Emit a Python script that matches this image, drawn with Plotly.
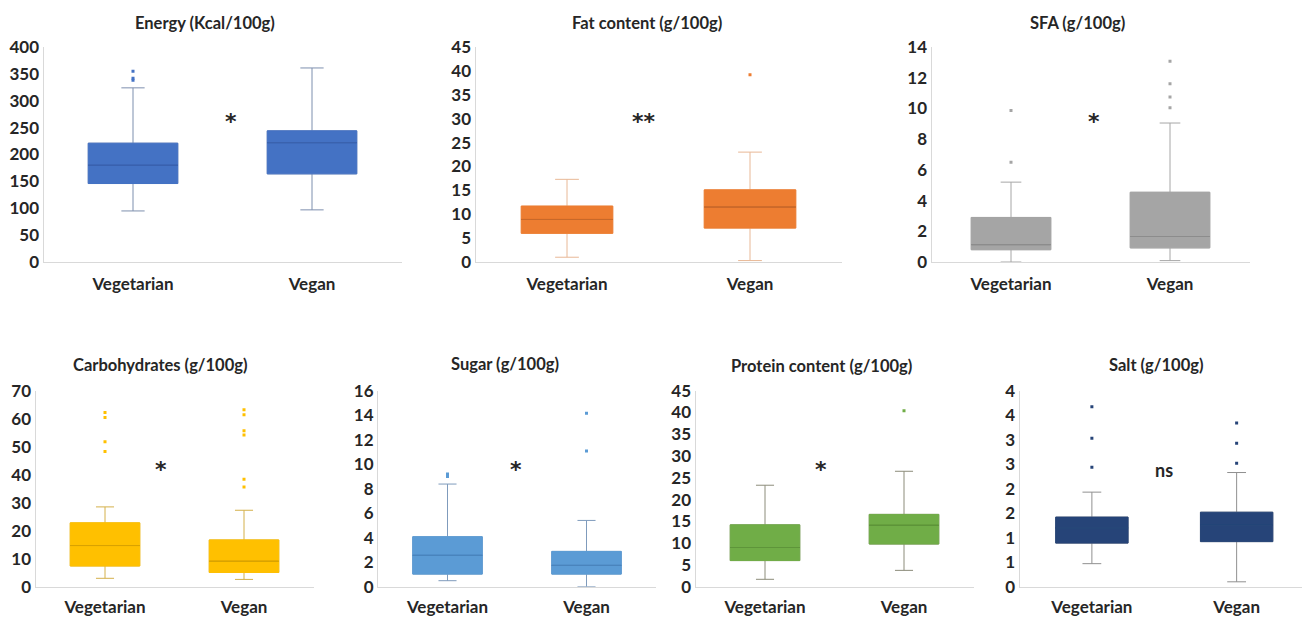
import plotly.graph_objects as go

# ---------------- data ----------------
CATEGORIES = ["Vegetarian", "Vegan"]

TITLES = ["Energy (Kcal/100g)", "Fat content (g/100g)", "SFA (g/100g)",
          "Carbohydrates (g/100g)", "Sugar (g/100g)", "Protein content (g/100g)", "Salt (g/100g)"]

# stats: [lower whisker, q1, median, q3, upper whisker]  for Vegetarian, Vegan
ENERGY_VEG = [95, 146, 180, 221, 324]
ENERGY_VEGAN = [97, 164, 222, 244, 361]
ENERGY_OUT_VEG = [338, 342, 355]
ENERGY_OUT_VEGAN = []

FAT_VEG = [1.0, 6.0, 8.9, 11.7, 17.3]
FAT_VEGAN = [0.3, 7.1, 11.5, 15.1, 23.0]
FAT_OUT_VEG = []
FAT_OUT_VEGAN = [39.2]

SFA_VEG = [0.0, 0.8, 1.13, 2.9, 5.2]
SFA_VEGAN = [0.09, 0.92, 1.66, 4.54, 9.05]
SFA_OUT_VEG = [6.5, 9.86]
SFA_OUT_VEGAN = [10.05, 10.75, 11.6, 13.08]

CARB_VEG = [3.0, 7.4, 14.7, 22.8, 28.5]
CARB_VEGAN = [2.6, 5.1, 9.1, 16.7, 27.3]
CARB_OUT_VEG = [48.3, 51.8, 60.4, 62.2]
CARB_OUT_VEGAN = [35.6, 38.4, 54.2, 55.7, 61.4, 63.2]

SUGAR_VEG = [0.49, 1.03, 2.56, 4.08, 8.38]
SUGAR_VEGAN = [0.0, 1.03, 1.74, 2.88, 5.41]
SUGAR_OUT_VEG = [9.0, 9.2]
SUGAR_OUT_VEGAN = [11.07, 14.15]

PROT_VEG = [1.7, 6.0, 9.0, 14.2, 23.3]
PROT_VEGAN = [3.75, 9.8, 14.1, 16.6, 26.5]
PROT_OUT_VEG = []
PROT_OUT_VEGAN = [40.4]

SALT_VEG = [0.47, 0.89, 1.2, 1.42, 1.93]
SALT_VEGAN = [0.10, 0.92, 1.25, 1.52, 2.33]
SALT_OUT_VEG = [2.44, 3.03, 3.67]
SALT_OUT_VEGAN = [2.52, 2.93, 3.34]

SIG_LABELS = ["*", "**", "*", "*", "*", "*", "ns"]
SIG_X = [0.55, 0.42, 0.52, 0.40, 0.49, 0.40, 0.50]
SIG_Y = [272, 30.6, 9.55, 43.9, 10.07, 28.3, 2.39]

Y_MAX = [400, 45, 14, 70, 16, 45, 4]
Y_STEP = [50, 5, 2, 10, 2, 5, 0.5]
SALT_TICKTEXT = ["0", "1", "1", "2", "2", "3", "3", "4", "4"]

# ---------------- styles ----------------
FILLS = ["#4472C4", "#ED7D31", "#A5A5A5", "#FFC000", "#5B9BD5", "#70AD47", "#264478"]
MEDIANS = ["#3A62AE", "#C8682A", "#8C8C8C", "#D9A300", "#4A85BD", "#5E953A", "#284779"]
WHISKERS = ["#7D8FAE", "#E8B896", "#A6A6A6", "#D4B04A", "#7F9BBC", "#8C8C7A", "#909090"]

# page body has an 8px margin; figure is shrunk and positions shifted accordingly
OFF = 8
W = 1310 - OFF
H = 618 - OFF
# pixel extents in the page (left, right, top, bottom)
PANELS_PX = [
    (43.5, 401.5, 47, 262),
    (475.5, 841.5, 47, 262),
    (931.5, 1249.5, 47, 262),
    (35.5, 313.5, 390.7, 586.7),
    (378.0, 656.0, 390.7, 586.7),
    (695.5, 973.5, 390.7, 586.7),
    (1019.5, 1309.0, 390.7, 586.7),
]
TITLE_PX = [(205, 23), (647, 23), (1077, 23), (160, 365), (505, 364), (821, 366), (1156, 365)]

stats = [
    (ENERGY_VEG, ENERGY_VEGAN, ENERGY_OUT_VEG, ENERGY_OUT_VEGAN),
    (FAT_VEG, FAT_VEGAN, FAT_OUT_VEG, FAT_OUT_VEGAN),
    (SFA_VEG, SFA_VEGAN, SFA_OUT_VEG, SFA_OUT_VEGAN),
    (CARB_VEG, CARB_VEGAN, CARB_OUT_VEG, CARB_OUT_VEGAN),
    (SUGAR_VEG, SUGAR_VEGAN, SUGAR_OUT_VEG, SUGAR_OUT_VEGAN),
    (PROT_VEG, PROT_VEGAN, PROT_OUT_VEG, PROT_OUT_VEGAN),
    (SALT_VEG, SALT_VEGAN, SALT_OUT_VEG, SALT_OUT_VEGAN),
]

FONT = "Lato, 'Open Sans', sans-serif"
TXT = "#262626"


def fx(px):
    return (px - OFF) / W


def fy(py):
    return 1 - (py - OFF) / H


fig = go.Figure()
layout = dict(
    width=W, height=H, showlegend=False,
    margin=dict(l=0, r=0, t=0, b=0, autoexpand=False),
    paper_bgcolor="white", plot_bgcolor="white",
    boxmode="overlay",
    annotations=[],
)

for i, (veg, vegan, out_veg, out_vegan) in enumerate(stats):
    n = i + 1
    xa = "x" if n == 1 else f"x{n}"
    ya = "y" if n == 1 else f"y{n}"
    lows = [veg[0], vegan[0]]
    q1s = [veg[1], vegan[1]]
    meds = [veg[2], vegan[2]]
    q3s = [veg[3], vegan[3]]
    highs = [veg[4], vegan[4]]

    # whiskers
    fig.add_trace(go.Box(
        x=CATEGORIES, q1=q1s, median=meds, q3=q3s, lowerfence=lows, upperfence=highs,
        width=0.5, whiskerwidth=0.26, fillcolor="rgba(0,0,0,0)",
        line=dict(color=WHISKERS[i], width=1), boxpoints=False,
        xaxis=xa, yaxis=ya, hoverinfo="skip"))
    # filled box (no visible outline)
    fig.add_trace(go.Box(
        x=CATEGORIES, q1=q1s, median=meds, q3=q3s, lowerfence=q1s, upperfence=q3s,
        width=0.5, whiskerwidth=0, fillcolor=FILLS[i],
        line=dict(color=FILLS[i], width=1), boxpoints=False,
        xaxis=xa, yaxis=ya, hoverinfo="skip"))
    # median line
    fig.add_trace(go.Box(
        x=CATEGORIES, q1=meds, median=meds, q3=meds, lowerfence=meds, upperfence=meds,
        width=0.5, whiskerwidth=0, fillcolor="rgba(0,0,0,0)",
        line=dict(color=MEDIANS[i], width=1), boxpoints=False,
        xaxis=xa, yaxis=ya, hoverinfo="skip"))
    # outliers
    ox = [CATEGORIES[0]] * len(out_veg) + [CATEGORIES[1]] * len(out_vegan)
    oy = list(out_veg) + list(out_vegan)
    if oy:
        fig.add_trace(go.Scatter(
            x=ox, y=oy, mode="markers",
            marker=dict(color=FILLS[i], size=3, symbol="square"),
            xaxis=xa, yaxis=ya, hoverinfo="skip"))

    l, r, t, b = PANELS_PX[i]
    ticks = [k * Y_STEP[i] for k in range(int(round(Y_MAX[i] / Y_STEP[i])) + 1)]
    yax = dict(
        domain=[fy(b), fy(t)], anchor=xa, range=[0, Y_MAX[i]],
        tickvals=ticks, showgrid=False, zeroline=False, automargin=False,
        showline=True, linecolor="#D9D9D9", linewidth=1, ticks="",
        tickfont=dict(family=FONT, size=17, color=TXT, weight="bold"),
    )
    if n == 7:
        yax["ticktext"] = SALT_TICKTEXT
    xax = dict(
        domain=[fx(l), fx(r)], anchor=ya, type="category",
        range=[-0.5, 1.5], showgrid=False, zeroline=False, automargin=False,
        showline=True, linecolor="#D9D9D9", linewidth=1, ticks="",
        ticklabelstandoff=7 if n <= 3 else 5,
        tickfont=dict(family=FONT, size=17, color=TXT, weight="bold"),
    )
    layout["xaxis" if n == 1 else f"xaxis{n}"] = xax
    layout["yaxis" if n == 1 else f"yaxis{n}"] = yax

    tx, ty = TITLE_PX[i]
    layout["annotations"].append(dict(
        text=TITLES[i], x=fx(tx), y=fy(ty), xref="paper", yref="paper",
        xanchor="center", yanchor="middle", showarrow=False,
        font=dict(family=FONT, size=16.5, color=TXT, weight="bold")))
    is_star = SIG_LABELS[i] != "ns"
    layout["annotations"].append(dict(
        text=SIG_LABELS[i], x=SIG_X[i], y=SIG_Y[i], xref=xa, yref=ya,
        xanchor="center", yanchor="middle", showarrow=False,
        yshift=-6 if is_star else 0,
        font=dict(family="DejaVu Sans" if is_star else FONT, size=22 if is_star else 18,
                  color=TXT, weight="bold")))

fig.update_layout(**layout)
fig.write_html("out.html")
